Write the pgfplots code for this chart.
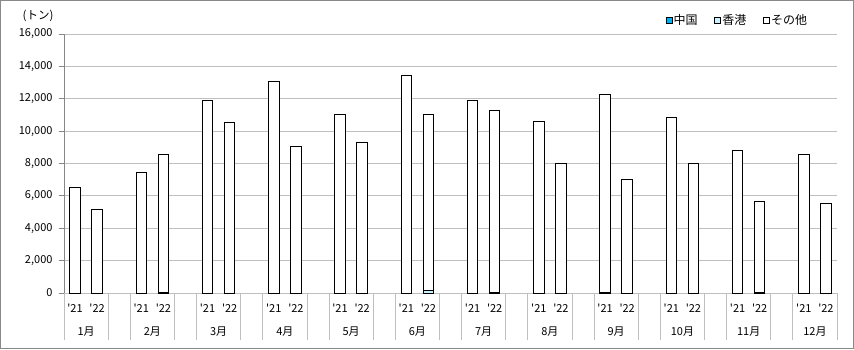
\documentclass[border=0pt]{standalone}
\usepackage{fontspec}
\setmainfont{Noto Sans CJK JP}
\usepackage{pgfplots}
\pgfplotsset{compat=1.18}
\usepackage{pgfplotstable}
\definecolor{cn}{RGB}{0,176,240}
\definecolor{hk}{RGB}{204,240,255}
\definecolor{gridc}{RGB}{191,191,191}
\definecolor{axc}{RGB}{134,134,134}
\definecolor{framec}{RGB}{137,137,137}

\pgfplotstableread{
x  cn  hk  other
0  0   0   6520
1  0   0   5160
3  0   0   7450
4  0   60  8500
6  0   0   11920
7  0   0   10560
9  0   0   13090
10 0   0   9070
12 0   0   11050
13 0   0   9320
15 0   0   13460
16 0   130 10900
18 0   0   11900
19 0   60  11240
21 0   0   10610
22 0   0   8020
24 0   60  12230
25 0   0   7030
27 0   0   10860
28 0   0   8020
30 0   0   8830
31 0   60  5610
33 0   0   8560
34 0   0   5550
}\data

\begin{document}
\begin{tikzpicture}
\useasboundingbox (0,0) rectangle (854pt,349pt);
\draw[framec, line width=1pt] (0.5pt,0.5pt) rectangle (853.5pt,348.5pt);
\begin{axis}[
  at={(64pt,56pt)}, anchor=south west,
  scale only axis, width=773pt, height=259pt,
  xmin=-0.5, xmax=34.5, ymin=0, ymax=16000,
  ybar stacked, bar width=10.5pt,
  axis lines*=left,
  x axis line style={gridc, line width=0.8pt, -},
  y axis line style={axc, line width=0.8pt, -},
  ymajorgrids, grid style={gridc, line width=0.8pt},
  ytick={0,2000,...,16000},
  scaled y ticks=false,
  tick align=outside,
  major tick length=5pt,
  y tick style={axc, line width=0.8pt},
  major x tick style={draw=none},
  xtick={0,1,3,4,6,7,9,10,12,13,15,16,18,19,21,22,24,25,27,28,30,31,33,34},
  xticklabels={\textquotesingle21,\textquotesingle22,\textquotesingle21,\textquotesingle22,\textquotesingle21,\textquotesingle22,\textquotesingle21,\textquotesingle22,\textquotesingle21,\textquotesingle22,\textquotesingle21,\textquotesingle22,\textquotesingle21,\textquotesingle22,\textquotesingle21,\textquotesingle22,\textquotesingle21,\textquotesingle22,\textquotesingle21,\textquotesingle22,\textquotesingle21,\textquotesingle22,\textquotesingle21,\textquotesingle22},
  minor xtick={-0.5,1.5,2.5,4.5,5.5,7.5,8.5,10.5,11.5,13.5,14.5,16.5,17.5,19.5,20.5,22.5,23.5,25.5,26.5,28.5,29.5,31.5,32.5,34.5},
  minor tick length=47pt,
  minor x tick style={gridc, line width=0.8pt},
  extra x ticks={0.5,3.5,6.5,9.5,12.5,15.5,18.5,21.5,24.5,27.5,30.5,33.5},
  extra x tick labels={1月,2月,3月,4月,5月,6月,7月,8月,9月,10月,11月,12月},
  extra x tick style={tick style={draw=none}, xticklabel style={yshift=-23pt}},
  xticklabel style={font=\fontsize{11}{12}\selectfont, yshift=-2pt},
  yticklabel style={font=\fontsize{11}{12}\selectfont, xshift=-3pt},
  /pgf/number format/.cd, 1000 sep={,}, assume math mode=true,
  /pgfplots/.cd,
  legend style={at={(axis description cs:0.774,1.054)}, anchor=west, draw=none, fill=none,
    font=\fontsize{12}{13}\selectfont, legend columns=3,
    /tikz/every even column/.append style={column sep=15pt},
    nodes={inner xsep=1.5pt}},
  legend image code/.code={\draw[#1, line width=0.7pt] (0pt,-3pt) rectangle (6pt,3pt);},
]
\addplot[fill=cn, draw=black, line width=1pt] table[x=x, y=cn] {\data};
\addplot[fill=hk, draw=black, line width=1pt] table[x=x, y=hk] {\data};
\addplot[fill=white, draw=black, line width=1pt] table[x=x, y=other] {\data};
\legend{中国,香港,その他}
\end{axis}
\node[font=\fontsize{11.5}{12}\selectfont] at (38pt,333pt) {(トン)};
\end{tikzpicture}
\end{document}
